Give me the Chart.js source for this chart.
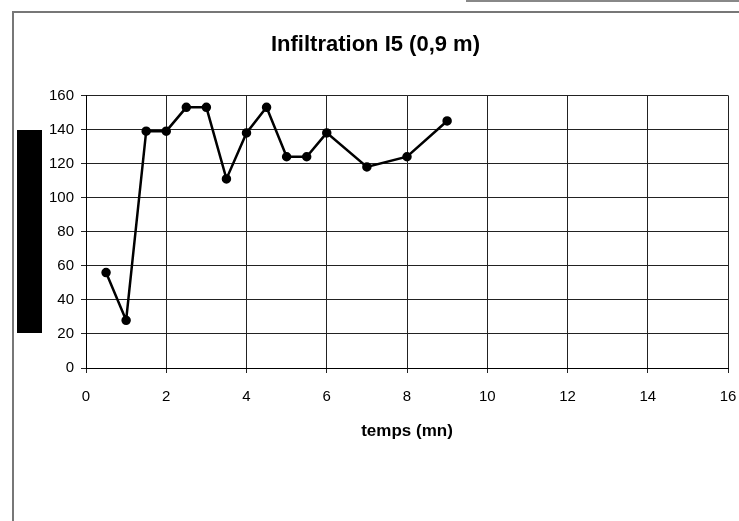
<!DOCTYPE html>
<html>
<head>
<meta charset="utf-8">
<title>Infiltration I5</title>
<script src="https://cdn.jsdelivr.net/npm/chart.js@4.4.1/dist/chart.umd.min.js"></script>
<style>
  html, body { margin: 0; padding: 0; background: #fff; }
  #wrap { position: relative; width: 739px; height: 521px; overflow: hidden; }
  #frame { position: absolute; left: 12px; top: 11px; width: 740px; height: 520px;
           border-left: 2px solid #777; border-top: 2px solid #777; }
  #scrap { position: absolute; left: 466px; top: 0; width: 273px; height: 2px; background: #888; }
  #ybar { position: absolute; left: 17px; top: 130px; width: 25px; height: 203px; background: #000; }
  canvas { position: absolute; left: 0; top: 0; }
</style>
</head>
<body>
<div id="wrap">
  <div id="scrap"></div>
  <div id="frame"></div>
  <canvas id="infChart" width="739" height="521"></canvas>
  <div id="ybar"></div>
</div>
<script>
// DATA
const chartTitle = 'Infiltration I5 (0,9 m)';
const xTitle = 'temps (mn)';
const timeMin = [0.5, 1, 1.5, 2, 2.5, 3, 3.5, 4, 4.5, 5, 5.5, 6, 7, 8, 9];
const infiltration = [56, 28, 139, 139, 153, 153, 111, 138, 153, 124, 124, 138, 118, 124, 145];
const xTicks = [0, 2, 4, 6, 8, 10, 12, 14, 16];
const yTicks = [0, 20, 40, 60, 80, 100, 120, 140, 160];

const FONT = '"Liberation Sans", Arial, sans-serif';

const ctx = document.getElementById('infChart').getContext('2d');
const infChart = new Chart(ctx, {
    type: 'line',
    data: {
        datasets: [{
            label: chartTitle,
            data: timeMin.map((t, i) => ({ x: t, y: infiltration[i] })),
            borderColor: '#000',
            backgroundColor: '#000',
            borderWidth: 2.5,
            pointRadius: 3.5,
            pointBackgroundColor: '#000',
            pointBorderColor: '#000',
            tension: 0,
            fill: false
        }]
    },
    options: {
        responsive: false,
        animation: false,
        layout: { padding: { top: 0, left: 23, right: 11, bottom: 0 } },
        plugins: {
            legend: { display: false },
            tooltip: { enabled: false },
            title: {
                display: true,
                text: chartTitle,
                color: '#000',
                font: { family: FONT, size: 22, weight: 'bold' },
                padding: { top: 32, bottom: 37 }
            }
        },
        scales: {
            x: {
                type: 'linear',
                min: xTicks[0],
                max: xTicks[xTicks.length - 1],
                afterBuildTicks: s => { s.ticks = xTicks.map(v => ({ value: v })); },
                afterFit: s => { s.height = 153; s.paddingLeft = 0; s.paddingRight = 0; },
                grid: { color: '#222', lineWidth: 1, tickLength: 5, drawTicks: true },
                border: { color: '#000', width: 1 },
                ticks: { color: '#000', font: { family: FONT, size: 15 }, padding: 15, maxRotation: 0 },
                title: {
                    display: true,
                    text: xTitle,
                    color: '#000',
                    font: { family: FONT, size: 17, weight: 'bold' },
                    padding: { top: 0, bottom: 79 }
                }
            },
            y: {
                type: 'linear',
                min: yTicks[0],
                max: yTicks[yTicks.length - 1],
                afterBuildTicks: s => { s.ticks = yTicks.map(v => ({ value: v })); },
                afterFit: s => { s.width = 63; },
                grid: { color: '#222', lineWidth: 1, tickLength: 5, drawTicks: true },
                border: { color: '#000', width: 1 },
                ticks: { color: '#000', font: { family: FONT, size: 15 }, padding: 7 }
            }
        }
    }
});
</script>
</body>
</html>
